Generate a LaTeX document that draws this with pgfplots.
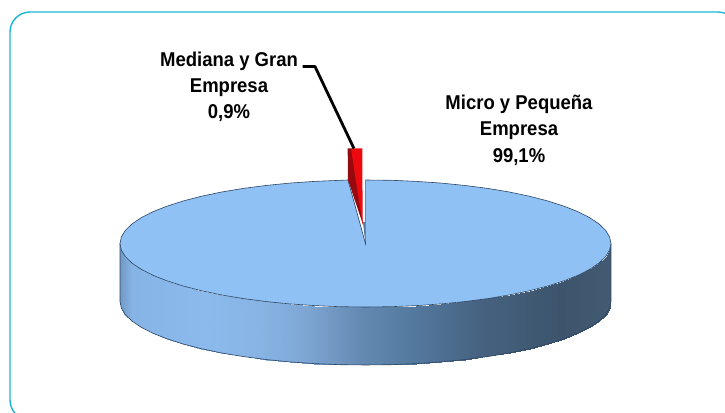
\documentclass[border=0pt]{standalone}
\usepackage{pgfplots}
\pgfplotsset{compat=1.18}
\usepackage{fontspec}
\setmainfont{Liberation Sans}
\definecolor{pietop}{RGB}{143,193,245}
\definecolor{pieedge}{RGB}{45,70,100}
\definecolor{framec}{RGB}{28,181,216}
\pgfplotsset{colormap={side}{
  rgb255(0cm)=(112,152,195) rgb255(0.5cm)=(135,180,230) rgb255(3.5cm)=(140,186,236) rgb255(5.7cm)=(135,180,228)
  rgb255(7.7cm)=(125,165,210) rgb255(9.8cm)=(100,138,178) rgb255(11.8cm)=(85,122,160) rgb255(14.7cm)=(70,98,128) rgb255(18cm)=(60,84,108) rgb255(20cm)=(66,90,114)}}
\begin{document}
\begin{tikzpicture}[x=1pt,y=1pt]
\clip (0,0) rectangle (725,412);
\begin{axis}[at={(0,0)},anchor=south west,scale only axis,width=725pt,height=412pt,
  xmin=0,xmax=725,ymin=0,ymax=412,zmin=-1,zmax=1,view={0}{90},hide axis,clip=false]
% side wall of the large slice
\addplot3[surf,shader=interp,mesh/rows=2,colormap name=side,point meta=x,point meta min=120,point meta max=611] table {
120.00 168.5 0
121.35 161.9 0
125.40 155.3 0
132.00 148.9 0
141.20 142.7 0
152.90 136.75 0
166.90 131.2 0
183.10 126.0 0
201.20 121.3 0
221.20 117.1 0
242.75 113.5 0
265.70 110.5 0
289.60 108.1 0
314.50 106.4 0
339.80 105.3 0
365.50 105.0 0
391.20 105.3 0
416.50 106.4 0
441.40 108.1 0
465.30 110.5 0
488.25 113.5 0
509.80 117.1 0
529.80 121.3 0
547.90 126.0 0
564.10 131.2 0
578.10 136.75 0
589.80 142.7 0
599.00 148.9 0
605.60 155.3 0
609.65 161.9 0
611.00 168.5 0
120.00 110.5 0
121.35 103.9 0
125.40 97.3 0
132.00 90.9 0
141.20 84.7 0
152.90 78.75 0
166.90 73.2 0
183.10 68.0 0
201.20 63.3 0
221.20 59.1 0
242.75 55.5 0
265.70 52.5 0
289.60 50.1 0
314.50 48.4 0
339.80 47.3 0
365.50 47.0 0
391.20 47.3 0
416.50 48.4 0
441.40 50.1 0
465.30 52.5 0
488.25 55.5 0
509.80 59.1 0
529.80 63.3 0
547.90 68.0 0
564.10 73.2 0
578.10 78.75 0
589.80 84.7 0
599.00 90.9 0
605.60 97.3 0
609.65 103.9 0
611.00 110.5 0
};
% lower outline of the side wall
\addplot3[pieedge,line width=0.6pt] coordinates {
(120,168.5,0)(120,110.5,0)(121.35,103.9,0)(125.4,97.3,0)(132,90.9,0)(141.2,84.7,0)(152.9,78.75,0)(166.9,73.2,0)(183.1,68,0)(201.2,63.3,0)(221.2,59.1,0)(242.75,55.5,0)(265.7,52.5,0)(289.6,50.1,0)(314.5,48.4,0)(339.8,47.3,0)(365.5,47,0)(391.2,47.3,0)(416.5,48.4,0)(441.4,50.1,0)(465.3,52.5,0)(488.25,55.5,0)(509.8,59.1,0)(529.8,63.3,0)(547.9,68,0)(564.1,73.2,0)(578.1,78.75,0)(589.8,84.7,0)(599,90.9,0)(605.6,97.3,0)(609.65,103.9,0)(611,110.5,0)(611,168.5,0)};
% top face of the large slice (99,1 %), notched at the small slice
\addplot3[fill=pietop,draw=pieedge,line width=0.6pt] coordinates {
(365.5,168.5,0)(365.5,232,0)(391.2,231.7,0)(416.5,230.6,0)(441.4,228.9,0)(465.3,226.5,0)(488.25,223.5,0)(509.8,219.9,0)(529.8,215.7,0)(547.9,211,0)(564.1,205.8,0)(578.1,200.25,0)(589.8,194.3,0)(599,188.1,0)(605.6,181.7,0)(609.65,175.1,0)(611,168.5,0)
(609.65,161.9,0)(605.6,155.3,0)(599,148.9,0)(589.8,142.7,0)(578.1,136.75,0)(564.1,131.2,0)(547.9,126,0)(529.8,121.3,0)(509.8,117.1,0)(488.25,113.5,0)(465.3,110.5,0)(441.4,108.1,0)(416.5,106.4,0)(391.2,105.3,0)(365.5,105,0)(339.8,105.3,0)(314.5,106.4,0)(289.6,108.1,0)(265.7,110.5,0)(242.75,113.5,0)(221.2,117.1,0)(201.2,121.3,0)(183.1,126,0)(166.9,131.2,0)(152.9,136.75,0)(141.2,142.7,0)(132,148.9,0)(125.4,155.3,0)(121.35,161.9,0)(120,168.5,0)
(121.35,175.1,0)(125.4,181.7,0)(132,188.1,0)(141.2,194.3,0)(152.9,200.25,0)(166.9,205.8,0)(183.1,211,0)(201.2,215.7,0)(221.2,219.9,0)(242.75,223.5,0)(265.7,226.5,0)(289.6,228.9,0)(314.5,230.6,0)(348,232,0)(365.5,168.5,0)} --cycle;
% white slit
\addplot3[fill=white,draw=none] coordinates {(348,233,0)(365.3,233,0)(365.3,171,0)(363,187,0)} --cycle;
% small slice (0,9 %): dark wall, bright top
\addplot3[fill={rgb,255:red,150;green,10;blue,15},draw=none] coordinates {(347.7,263.7,0)(352,263.7,0)(363.2,187,0)(348,232,0)} --cycle;
\addplot3[fill={rgb,255:red,236;green,10;blue,15},draw=none] coordinates {(351,263.7,0)(362.3,263.7,0)(362.7,187,0)} --cycle;
\addplot3[fill=pieedge!60!pietop,draw=none] coordinates {(363,190,0)(365.2,190,0)(365.4,168.5,0)} --cycle;
% leader
\addplot3[black,line width=2.8pt,line join=round] coordinates {(302.7,345.5,0)(315,345.5,0)(354,263.5,0)};
\end{axis}
\draw[framec,line width=1.4pt,rounded corners=20pt] (10,-8) rectangle (738,400);
\node[align=center,font=\bfseries\fontsize{20}{26.3}\selectfont,xscale=.925] at (229,325) {Mediana y Gran\\Empresa\\0,9\%};
\node[align=center,font=\bfseries\fontsize{20}{26.5}\selectfont,xscale=.925] at (519,282) {Micro y Pequeña\\Empresa\\99,1\%};
\end{tikzpicture}
\end{document}
